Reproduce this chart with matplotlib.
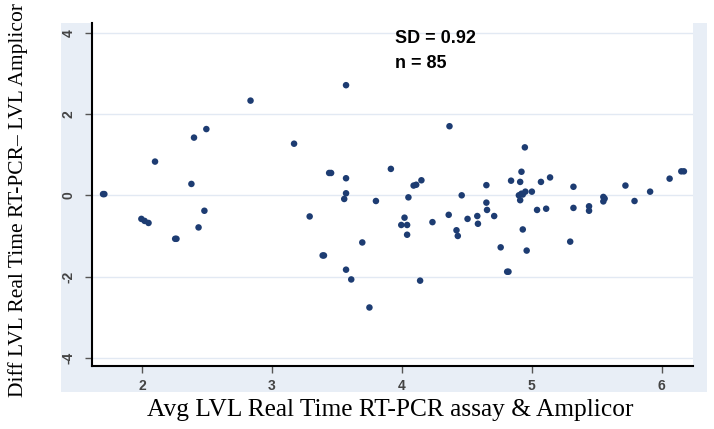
import matplotlib
matplotlib.use("Agg")
import matplotlib.pyplot as plt
from matplotlib.patches import Rectangle

# Data (average vs difference)
avg_lvl = [1.70, 1.71, 1.995, 2.02, 2.05, 2.10, 2.255, 2.265, 2.38, 2.40,
           2.435, 2.48, 2.495, 2.835, 3.17, 3.29, 3.39, 3.40, 3.44, 3.455,
           3.57, 3.57, 3.57, 3.556, 3.57, 3.61, 3.695, 3.75, 3.80, 3.915,
           4.09, 4.11, 4.15, 4.05, 4.02, 3.995, 4.04, 4.04, 4.14, 4.235,
           4.36, 4.366, 4.42, 4.43, 4.46, 4.505, 4.58, 4.585, 4.65, 4.65,
           4.655, 4.71, 4.76, 4.81, 4.82, 4.84, 4.91, 4.92, 4.946, 4.90,
           4.92, 4.93, 4.95, 5.00, 4.91, 4.93, 4.96, 5.04, 5.07, 5.11,
           5.14, 5.295, 5.32, 5.32, 5.44, 5.44, 5.55, 5.55, 5.56, 5.72,
           5.79, 5.91, 6.06, 6.15, 6.17]
diff_lvl = [0.03, 0.03, -0.58, -0.63, -0.68, 0.83, -1.07, -1.07, 0.28, 1.42,
            -0.79, -0.38, 1.63, 2.33, 1.27, -0.52, -1.48, -1.48, 0.55, 0.55,
            2.71, 0.42, 0.05, -0.09, -1.83, -2.07, -1.16, -2.76, -0.14, 0.65,
            0.24, 0.26, 0.37, -0.05, -0.55, -0.73, -0.73, -0.97, -2.10, -0.66,
            -0.48, 1.70, -0.86, -1.00, 0.00, -0.58, -0.51, -0.70, 0.25, -0.18,
            -0.36, -0.51, -1.28, -1.88, -1.88, 0.36, 0.33, 0.58, 1.18, 0.00,
            0.04, 0.02, 0.09, 0.09, -0.12, -0.84, -1.36, -0.36, 0.33, -0.33,
            0.44, -1.14, 0.21, -0.31, -0.27, -0.38, -0.04, -0.15, -0.08, 0.24,
            -0.14, 0.09, 0.41, 0.59, 0.59]

x_ticks = [2, 3, 4, 5, 6]
y_ticks = [-4, -2, 0, 2, 4]
y_tick_labels = ["-4", "-2", "0", "2", "4"]

x_label = "Avg LVL Real Time RT-PCR assay & Amplicor"
y_label = "Diff LVL Real Time RT-PCR\u2013 LVL Amplicor"
annotation = "SD = 0.92\nn = 85"

W, H = 714, 429
fig = plt.figure(figsize=(W / 100, H / 100), dpi=100)
fig.patch.set_facecolor("white")

# graph region background (light bluish)
fig.patches.append(Rectangle((61 / W, 1 - 392 / H), (707 - 61) / W, (392 - 23) / H,
                             transform=fig.transFigure, facecolor="#e8eef6",
                             edgecolor="none", zorder=0))

ax = fig.add_axes([92 / W, 1 - 366 / H, (693 - 92) / W, (366 - 23) / H])
ax.set_facecolor("white")
ax.set_zorder(1)

ax.set_xlim(1.615, 6.24)
ax.set_ylim(-4.2, 4.24)

for yv in y_ticks:
    ax.axhline(yv, color="#e2e9f3", lw=1.0, zorder=1)

ax.scatter(avg_lvl, diff_lvl, s=22, color="#1d3c72", edgecolors="none", zorder=3)

for side in ["top", "right"]:
    ax.spines[side].set_visible(False)
for side in ["left", "bottom"]:
    ax.spines[side].set_color("black")
    ax.spines[side].set_linewidth(1.5)

ax.set_xticks(x_ticks)
ax.set_xticklabels([str(v) for v in x_ticks])
ax.set_yticks(y_ticks)
ax.set_yticklabels(y_tick_labels)
ax.tick_params(axis="both", colors="#555555", length=5, width=1.0,
               labelsize=10, labelcolor="#444444")
ax.tick_params(axis="x", pad=4)
ax.tick_params(axis="y", pad=12)
for lab in ax.get_yticklabels():
    lab.set_rotation(90)
    lab.set_va("center")
    lab.set_ha("center")
for lab in ax.get_xticklabels() + ax.get_yticklabels():
    lab.set_fontfamily("Liberation Sans")
    lab.set_fontweight("bold")

fig.text(390 / W, 1 - 410 / H, x_label, ha="center", va="center",
         fontsize=18.3, family="Liberation Serif", color="black")
fig.text(18 / W, 1 - 200 / H, y_label, ha="center", va="center", rotation=90,
         fontsize=15.5, family="Liberation Serif", color="black")

fig.text(395 / W, 1 - 30 / H, annotation, ha="left", va="top",
         fontsize=13, fontweight="bold", family="Liberation Sans",
         color="black", linespacing=1.6, zorder=5)

fig.savefig("out.png", dpi=100, facecolor="white")
